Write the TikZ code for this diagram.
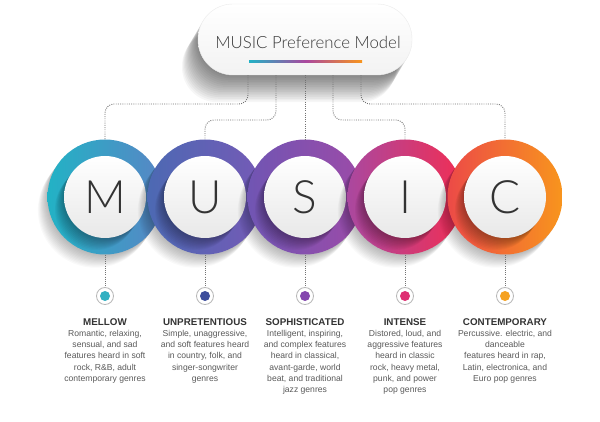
\documentclass[tikz,border=0pt]{standalone}
\usepackage{fontspec}
\setmainfont{Liberation Sans}
\newfontfamily\lightfont{Lato}[UprightFont={* Light}]
\usetikzlibrary{calc}
\definecolor{txt}{HTML}{333333}
\definecolor{desc}{HTML}{5A5A5A}
\definecolor{mL}{HTML}{22B2C5}\definecolor{mR}{HTML}{5886C5}
\definecolor{uL}{HTML}{4C69B3}\definecolor{uR}{HTML}{755AB6}
\definecolor{sL}{HTML}{7055B3}\definecolor{sR}{HTML}{9C4BA8}
\definecolor{iL}{HTML}{AA489F}\definecolor{iR}{HTML}{F02E55}
\definecolor{cL}{HTML}{EC4A47}\definecolor{cR}{HTML}{F8951D}
\definecolor{mD}{HTML}{32B0C2}\definecolor{uD}{HTML}{3E4E9C}
\definecolor{sD}{HTML}{8447AE}\definecolor{iD}{HTML}{DE2F72}
\definecolor{cD}{HTML}{F5A222}
\newcommand\musicring[8]{%
  \foreach \k in {1,...,12} \fill[black,opacity=0.025] (#1-\k*0.8, 197+\k*1.1) circle (57.5);
  \node[ringnode, left color=#4, right color=#5] (#2) at (#1,197) {};
  \begin{scope}
    \clip (#1,197) circle (57.5);
    \foreach \k in {1,...,10} \fill[black,opacity=0.035] (#1-\k*0.9, 197+\k*1.2) circle (41);
  \end{scope}
  \node[innernode] (#2w) at (#1,197) {#3};
  \node[dotnode] (#2d) at (#1,296) {};
  \fill[#6] (#2d.center) circle (5);
  \draw[conn] (#2.south) -- (#2d.north);
  \node[headnode] (#2h) at (#1,325.5) {#7};
  \node[descnode] (#2t) at (#1,330) {#8};
}
\begin{document}
\begin{tikzpicture}[x=1pt,y=-1pt,
  conn/.style={draw=black!55, line width=0.9pt, dash pattern=on 0.9pt off 1.3pt, rounded corners=9pt},
  ringnode/.style={circle, minimum size=115pt, inner sep=0pt},
  innernode/.style={circle, minimum size=82pt, inner sep=0pt, top color=white, bottom color=black!9, font=\lightfont\fontsize{46}{46}\selectfont, text=txt},
  dotnode/.style={circle, draw=black!28, line width=0.8pt, fill=white, minimum size=17pt, inner sep=0pt},
  headnode/.style={font=\bfseries\fontsize{9.8}{12}\selectfont, text=txt, anchor=base, inner sep=0pt},
  descnode/.style={font=\fontsize{8.6}{11.2}\selectfont, text=desc, align=center, anchor=north, inner sep=0pt}]
\useasboundingbox (0,0) rectangle (600,422);
\fill[white] (0,0) rectangle (600,422);
% pill shadow
\foreach \k in {1,...,16} \fill[black, opacity=0.035, rounded corners=35pt] (198-\k*1.0, 4+\k*1.7) rectangle ++(214,71);
% pill
\node[draw=black!8, rounded corners=35pt, minimum width=214pt, minimum height=71pt, top color=white, bottom color=black!5, inner sep=0pt] (pill) at (305,39.5) {};
\node[font=\lightfont\fontsize{16.8}{16.8}\selectfont, text=black!78] (title) at (308,42) {MUSIC Preference Model};
\shade[left color=mL, right color=cR, middle color=iL] (249,61) rectangle (362,63);
% rings
\musicring{105}{m}{M}{mL}{mR}{mD}{MELLOW}{Romantic, relaxing,\\ sensual, and sad\\ features heard in soft\\ rock, R\&B, adult\\ contemporary genres}
\musicring{205}{u}{U}{uL}{uR}{uD}{UNPRETENTIOUS}{Simple, unaggressive,\\ and soft features heard\\ in country, folk, and\\ singer-songwriter\\ genres}
\musicring{305}{s}{S}{sL}{sR}{sD}{SOPHISTICATED}{Intelligent, inspiring,\\ and complex features\\ heard in classical,\\ avant-garde, world\\ beat, and traditional\\ jazz genres}
\musicring{405}{i}{I}{iL}{iR}{iD}{INTENSE}{Distored, loud, and\\ aggressive features\\ heard in classic\\ rock, heavy metal,\\ punk, and power\\ pop genres}
\musicring{505}{c}{C}{cL}{cR}{cD}{CONTEMPORARY}{Percussive. electric, and\\ danceable\\ features heard in rap,\\ Latin, electronica, and\\ Euro pop genres}
% top connectors
\draw[conn] (pill.south -| 248,0) |- (m.north |- 0,104) -- (m.north);
\draw[conn] (pill.south -| 276,0) |- (u.north |- 0,120) -- (u.north);
\draw[conn] (pill.south -| s.north) -- (s.north);
\draw[conn] (pill.south -| 333,0) |- (i.north |- 0,120) -- (i.north);
\draw[conn] (pill.south -| 361,0) |- (c.north |- 0,104) -- (c.north);
\end{tikzpicture}
\end{document}
